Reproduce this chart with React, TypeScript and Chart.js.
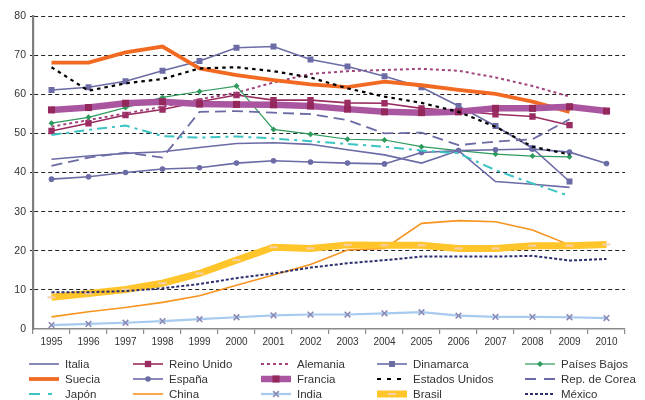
import React, { useEffect, useRef } from 'react';
import { Chart, registerables } from 'chart.js';
import { drawPoint } from 'chart.js/helpers';

Chart.register(...registerables);

const years = ['1995', '1996', '1997', '1998', '1999', '2000', '2001', '2002', '2003', '2004', '2005', '2006', '2007', '2008', '2009', '2010'];

const italia = [43.4, 44.2, 44.9, 45.3, 46.4, 47.4, 47.6, 47.2, 45.8, 44.5, 42.4, 45.6, 37.7, 37.0, 36.2, null];
const reinoUnido = [50.6, 52.6, 54.7, 56.1, 58.1, 59.8, 58.5, 58.5, 57.8, 57.7, 56.4, 55.7, 54.9, 54.3, 52.1, null];
const alemania = [51.7, 53.4, 55.1, 56.8, 58.7, 60.4, 63.0, 65.2, 65.9, 66.2, 66.5, 66.0, 64.3, 62.1, 59.4, null];
const dinamarca = [61.1, 61.8, 63.3, 66.0, 68.5, 71.9, 72.2, 68.9, 67.1, 64.6, 61.8, 57.0, 51.9, 46.2, 37.7, null];
const paisesBajos = [52.6, 54.1, 56.6, 59.2, 60.7, 62.1, 51.0, 49.8, 48.5, 48.3, 46.6, 45.6, 44.7, 44.2, 44.0, null];
const suecia = [68.1, 68.1, 70.7, 72.2, 66.6, 64.9, 63.6, 62.5, 61.8, 63.2, 62.3, 61.1, 60.1, 58.1, 55.5, null];
const espana = [38.3, 38.9, 40.0, 40.9, 41.2, 42.4, 43.0, 42.7, 42.4, 42.2, 45.1, 45.6, 45.8, 46.0, 45.2, 42.3];
const francia = [56.0, 56.6, 57.7, 58.1, 57.5, 57.4, 57.3, 57.0, 56.2, 55.5, 55.3, 55.5, 56.4, 56.4, 56.8, 55.7];
const estadosUnidos = [66.9, 60.9, 62.8, 63.9, 66.6, 66.9, 65.9, 64.3, 61.5, 59.4, 57.8, 55.5, 51.7, 46.6, 44.6, null];
const corea = [41.7, 43.8, 45.1, 43.8, 55.5, 55.7, 55.3, 54.9, 53.4, 50.0, 50.2, 47.0, 47.9, 48.5, 53.6, null];
const japon = [49.6, 50.9, 52.0, 49.3, 48.9, 49.2, 48.7, 48.0, 47.3, 46.6, 45.6, 44.9, 40.6, 37.2, 34.0, null];
const china = [3.1, 4.4, 5.5, 6.8, 8.5, 11.2, 13.8, 16.5, 20.2, 20.6, 27.0, 27.7, 27.4, 25.3, 21.5, null];
const india = [1.0, 1.3, 1.6, 2.0, 2.5, 3.0, 3.5, 3.7, 3.7, 4.0, 4.3, 3.4, 3.1, 3.1, 3.0, 2.8];
const brasil = [8.1, 9.1, 10.1, 11.7, 14.2, 17.6, 20.9, 20.6, 21.5, 21.4, 21.4, 20.6, 20.6, 21.3, 21.3, 21.6];
const mexico = [9.4, 9.4, 9.7, 10.4, 11.5, 13.0, 14.2, 15.7, 16.8, 17.6, 18.5, 18.5, 18.5, 18.7, 17.5, 17.9];

const yTicks = [0, 10, 20, 30, 40, 50, 60, 70, 80];

const FONT = '"Liberation Sans", Arial, Helvetica, sans-serif';
const SLATE = '#6b6ba6';
const MAROON = '#9a2c62';

const legendCols = [29, 133, 261, 377, 525];
const legendRows = [364, 379, 394];

const gridLegend = {
  id: 'gridLegend',
  afterDraw(chart: any) {
    const ctx = chart.ctx;
    chart.data.datasets.forEach((ds: any, i: number) => {
      const x = legendCols[i % 5];
      const y = legendRows[Math.floor(i / 5)];
      ctx.save();
      ctx.strokeStyle = ds.borderColor;
      ctx.lineWidth = ds.borderWidth;
      ctx.setLineDash(ds.legendDash || ds.borderDash || []);
      ctx.beginPath();
      ctx.moveTo(x, y);
      ctx.lineTo(x + 30, y);
      ctx.stroke();
      ctx.setLineDash([]);
      if (ds.pointRadius > 0) {
        ctx.fillStyle = ds.pointBackgroundColor;
        ctx.strokeStyle = ds.pointBorderColor;
        ctx.lineWidth = ds.pointBorderWidth;
        drawPoint(ctx, { pointStyle: ds.pointStyle, radius: ds.pointRadius, rotation: 0, borderWidth: ds.pointBorderWidth }, x + 15, y);
      }
      ctx.fillStyle = '#333';
      ctx.font = `11.5px ${FONT}`;
      ctx.textBaseline = 'middle';
      ctx.textAlign = 'left';
      ctx.fillText(ds.label, x + 36, y + 0.5);
      ctx.restore();
    });
  },
};

function line(label: string, data: (number | null)[], color: string, width: number, extra: any = {}) {
  return {
    label,
    data,
    borderColor: color,
    backgroundColor: color,
    borderWidth: width,
    pointRadius: 0,
    pointHoverRadius: 0,
    pointStyle: 'circle',
    pointBackgroundColor: color,
    pointBorderColor: color,
    pointBorderWidth: 0,
    tension: 0,
    fill: false,
    spanGaps: false,
    ...extra,
  };
}

export default function App() {
  const ref = useRef<HTMLCanvasElement | null>(null);

  useEffect(() => {
    if (!ref.current) return;
    const datasets: any[] = [
      line('Italia', italia, SLATE, 1.6),
      line('Reino Unido', reinoUnido, MAROON, 1.6, { pointRadius: 4.5, pointStyle: 'rect', pointBackgroundColor: MAROON, pointBorderColor: MAROON }),
      line('Alemania', alemania, '#a2457e', 2, { borderDash: [3, 3] }),
      line('Dinamarca', dinamarca, SLATE, 1.6, { pointRadius: 4.2, pointStyle: 'rect', pointBackgroundColor: SLATE, pointBorderColor: SLATE }),
      line('Países Bajos', paisesBajos, '#2e9a5c', 1.2, { pointRadius: 3, pointStyle: 'rectRot', pointBackgroundColor: '#2e9a5c', pointBorderColor: '#2e9a5c' }),
      line('Suecia', suecia, '#f26a22', 3.8),
      line('España', espana, SLATE, 1.6, { pointRadius: 2.8, pointStyle: 'circle', pointBackgroundColor: SLATE, pointBorderColor: SLATE }),
      line('Francia', francia, '#aa55a0', 6.5, { pointRadius: 5, pointStyle: 'rect', pointBackgroundColor: '#94285c', pointBorderColor: '#94285c' }),
      line('Estados Unidos', estadosUnidos, '#000000', 2.2, { borderDash: [3.5, 4], legendDash: [4, 6] }),
      line('Rep. de Corea', corea, SLATE, 1.8, { borderDash: [11, 6], legendDash: [11, 8] }),
      line('Japón', japon, '#3cc3c3', 2, { borderDash: [10, 5, 3, 5], legendDash: [11, 8, 4, 20] }),
      line('China', china, '#f7941d', 1.6),
      line('India', india, '#a6cbee', 2.2, { pointRadius: 4, pointStyle: 'crossRot', pointBackgroundColor: '#8a8ab6', pointBorderColor: '#8a8ab6', pointBorderWidth: 1.6 }),
      line('Brasil', brasil, '#ffc52a', 7, { pointRadius: 4, pointStyle: 'line', pointBackgroundColor: '#f6cfae', pointBorderColor: '#f6cfae', pointBorderWidth: 2 }),
      line('México', mexico, '#2d2f6f', 2, { borderDash: [3, 2] }),
    ];
    const n = datasets.length;
    datasets.forEach((d, i) => { d.order = n - i; });

    const chart = new Chart(ref.current, {
      type: 'line',
      data: { labels: years, datasets },
      plugins: [gridLegend],
      options: {
        animation: false,
        responsive: true,
        maintainAspectRatio: false,
        events: [],
        layout: { padding: { left: 0, right: 20, top: 16, bottom: 48 } },
        plugins: {
          legend: { display: false },
          tooltip: { enabled: false },
        },
        scales: {
          x: {
            type: 'category',
            offset: true,
            afterFit: (s: any) => { s.height = 23; },
            grid: {
              display: true,
              drawOnChartArea: false,
              drawTicks: true,
              offset: true,
              tickLength: 5,
              color: '#8a8a8a',
              lineWidth: 1.2,
            },
            border: { display: true, color: '#8a8a8a', width: 1.6 },
            ticks: {
              color: '#333',
              font: { size: 10, family: FONT },
              padding: 2,
              maxRotation: 0,
              autoSkip: false,
            },
          },
          y: {
            min: 0,
            max: 80,
            afterFit: (s: any) => { s.width = 33; },
            afterBuildTicks: (s: any) => { s.ticks = yTicks.map((v) => ({ value: v })); },
            grid: {
              color: (c: any) => (c.tick && c.tick.value === 0 ? 'rgba(0,0,0,0)' : '#222'),
              lineWidth: 1,
              drawTicks: true,
              tickLength: 3,
            },
            border: { display: true, color: '#7f7f7f', width: 2.2, dash: [4, 3] },
            ticks: {
              color: '#333',
              font: { size: 10.5, family: FONT },
              padding: 4,
            },
          },
        },
      },
    } as any);
    return () => chart.destroy();
  }, []);

  return (
    <div style={{ position: 'absolute', left: 0, top: 0, width: 645, height: 400 }}>
      <canvas ref={ref} />
    </div>
  );
}
